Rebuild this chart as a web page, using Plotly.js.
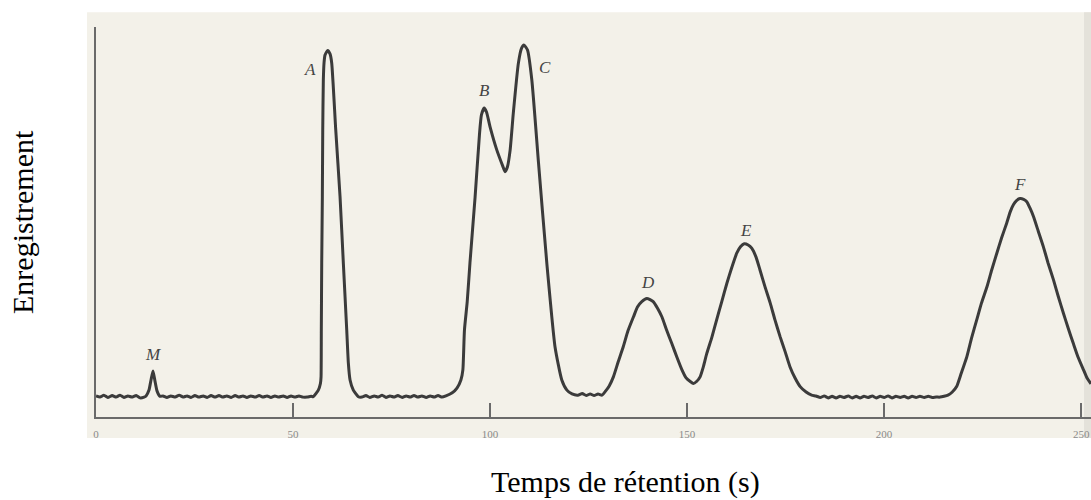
<!DOCTYPE html>
<html>
<head>
<meta charset="utf-8">
<script src="https://cdn.plot.ly/plotly-3.0.1.min.js"></script>
<style>html,body{margin:0;padding:0;background:#fff;}#chart{width:1091px;height:500px;}</style>
</head>
<body>
<div id="chart"></div>
<script>
// Retention time (s) and detector signal (arbitrary units)
var time1 = [0,1.0,2.0,3.0,4.1,5.1,6.1,7.1,8.1,9.1,10.2,11.2,12.2,12.7,13.45,13.96,14.47,14.97,15.48,16.24,
  17.0,18.0,19.0,20.1,21.1,22.1,23.1,24.1,25.1,26.1,27.2,28.2,29.2,30.2,31.2,32.2,33.2,34.3,35.3,36.3,
  37.3,38.3,39.3,40.4,41.4,42.4,43.4,44.4,45.4,46.4,47.5,48.5,49.5,50.5,51.5,52.5,53.6,54.6];
var signal1 = [5.4,5.1,5.6,5.0,5.5,5.1,5.6,5.0,5.4,5.1,5.5,4.9,5.1,5.4,6.9,9.5,11.8,9.2,6.7,5.3,
  5.4,5.0,5.4,5.1,5.6,5.1,5.4,5.0,5.5,5.1,5.4,5.0,5.5,5.1,5.5,5.1,5.4,5.0,5.5,5.1,
  5.4,5.0,5.4,5.1,5.5,5.1,5.4,5.0,5.4,5.1,5.4,5.0,5.4,5.1,5.4,5.1,5.1,5.3];

var timeA = [55.15,56.42,56.95,57.11,57.18,57.28,57.44,57.54,57.69,57.87,58.12,58.78,59.39,59.82,60.84,61.93,62.77,63.63,64.04,64.47,65.30,66.57];
var signalA = [5.2,6.9,8.6,10.3,22.3,39.5,56.5,73.6,86.4,90.8,92.8,94.0,93.1,90.7,73.6,56.5,39.4,22.3,13.8,9.5,6.9,5.2];

var time2 = [67.5,68.5,69.5,70.6,71.6,72.6,73.6,74.6,75.6,76.6,77.7,78.7,79.7,80.7,81.7,82.7,83.8,84.8,85.8,86.8,87.8,88.8];
var signal2 = [5.1,5.5,5.0,5.4,5.1,5.6,5.0,5.4,5.1,5.5,5.0,5.4,5.1,5.5,5.1,5.4,5.0,5.4,5.1,5.5,5.1,5.4];

var timeBC = [90.4,91.6,92.6,93.1,93.5,94.2,94.9,96.2,97.3,97.8,98.5,99.1,100.0,101.7,103.2,103.8,104.4,105.1,105.9,107.2,108.0,108.6,109.5,110.6,112.3,114.4,116.5,118.2,119.5,120.8,122.3];
var signalBC = [6.2,7.4,9.5,12.1,22.3,29.5,39.5,56.4,72.3,77.4,79.2,78.2,74.4,68.5,64.4,62.9,64.1,68.5,77.9,90.8,94.6,95.4,94.1,86.4,65.1,39.5,17.9,9.5,6.9,5.9,5.6];

var time3 = [123.4,124.4,125.4,126.4,127.4,128.4];
var signal3 = [6.0,5.5,5.9,5.5,5.9,5.6];

var timeDE = [129.2,130.2,131.3,132.5,133.8,135.0,136.4,137.4,138.5,139.8,140.6,141.4,142.5,143.6,144.8,146.1,147.4,148.7,149.7,150.8,151.6,152.4,153.3,154.1,155.0,156.3,157.5,158.8,160.1,161.3,162.6,163.6,164.5,165.5,166.4,167.5,168.5,169.8,171.1,172.3,173.6,174.9,176.1,177.4,178.7,180.2,181.6];
var signalDE = [6.5,7.9,10.3,14.1,18.0,22.1,25.7,28.2,29.6,30.4,30.1,29.6,27.9,25.7,22.3,18.9,15.4,12.1,10.1,9.1,8.6,9.1,10.3,12.8,16.3,20.5,24.9,29.6,34.3,38.2,42.0,43.7,44.4,44.1,43.3,41.0,37.7,33.3,29.2,24.9,20.6,16.7,12.9,10.0,7.8,6.4,5.6];

var time4 = [182.7,183.8,184.8,185.8,186.8,187.8,188.8,189.8,190.9,191.9,192.9,193.9,194.9,195.9,197.0,198.0,199.0,200.0,201.0,202.0,203.0,204.1,205.1,206.1,207.1,208.1,209.1,210.2,211.2,212.2,213.2,214.2,215.2];
var signal4 = [5.4,5.0,5.4,4.9,5.3,4.9,5.3,5.0,5.4,4.9,5.3,4.9,5.3,5.0,5.4,4.9,5.3,5.0,5.4,4.9,5.3,5.0,5.3,4.9,5.3,5.0,5.3,5.0,5.3,5.0,5.1,5.1,5.3];

var timeF = [216.2,217.3,218.4,219.5,221.0,222.2,223.5,224.7,226.1,227.3,228.6,229.8,231.1,232.0,232.8,233.6,234.5,235.4,236.2,237.0,237.9,239.1,240.4,241.6,243.0,244.2,245.5,246.7,248.0,249.2,250.6,251.5,252.5];
var signalF = [5.6,6.4,7.8,11.0,15.5,20.3,24.9,29.2,33.4,37.7,42.0,45.9,49.7,52.6,54.4,55.5,56.0,55.8,55.2,53.6,51.4,47.7,43.7,39.5,35.1,30.9,26.6,22.8,18.9,15.4,12.1,10.0,8.5];

// Peak labels
var peakNames = ['M','A','B','C','D','E','F'];
var labelTime = [14.5,54.3,98.5,114.0,140.1,165.0,234.5];
var labelSignal = [15.9,89.0,83.8,89.5,34.4,47.9,59.5];

// Axis ticks
var tickValues = [0,50,100,150,200,250];
var tickLabels = ['0','50','100','150','200','250'];

var xTitle = 'Temps de rétention (s)';
var yTitle = 'Enregistrement';

var retentionTime = [].concat(time1,timeA,time2,timeBC,time3,timeDE,time4,timeF);
var signal = [].concat(signal1,signalA,signal2,signalBC,signal3,signalDE,signal4,signalF);

var SERIF = 'Liberation Serif, Times New Roman, serif';

var trace = {
  type: 'scatter', mode: 'lines',
  x: retentionTime, y: signal,
  line: {color: '#3b3b3b', width: 3, shape: 'spline', smoothing: 0.5},
  hoverinfo: 'skip', showlegend: false
};

var annotations = peakNames.map(function(n, i){
  return {x: labelTime[i], y: labelSignal[i], xref: 'x', yref: 'y',
    text: '<i>' + n + '</i>', showarrow: false,
    font: {family: SERIF, size: 17, color: '#444'}, xanchor: 'center', yanchor: 'middle'};
});
annotations.push({x: 0.395, y: -0.167, xref: 'paper', yref: 'paper', text: xTitle, showarrow: false,
  font: {family: SERIF, size: 30, color: '#000'}, xanchor: 'left', yanchor: 'middle'});
annotations.push({x: -0.0744, y: 0.5, xref: 'paper', yref: 'paper', text: yTitle, showarrow: false,
  textangle: -90, font: {family: SERIF, size: 30, color: '#000'}, xanchor: 'center', yanchor: 'middle'});

var layout = {
  width: 1091, height: 500,
  margin: {l: 96, r: 0, t: 27, b: 83, pad: 0},
  paper_bgcolor: '#ffffff', plot_bgcolor: 'rgba(0,0,0,0)',
  font: {family: SERIF},
  showlegend: false,
  xaxis: {
    range: [0, 252.5], showgrid: false, zeroline: false,
    showline: true, linecolor: '#6a6a6a', linewidth: 2,
    ticks: 'inside', ticklen: 14, tickwidth: 1.5, tickcolor: '#6a6a6a',
    tickvals: tickValues, ticktext: tickLabels,
    tickfont: {family: SERIF, size: 11, color: '#8a8a8a'}, ticklabelstandoff: 6
  },
  yaxis: {
    range: [0, 100], showgrid: false, zeroline: false,
    showline: true, linecolor: '#6a6a6a', linewidth: 2,
    ticks: '', showticklabels: false
  },
  shapes: [
    {type: 'rect', xref: 'paper', yref: 'paper', x0: -0.009, x1: 1.0, y0: -0.054, y1: 1.038,
      fillcolor: '#f3f1e9', line: {width: 0}, layer: 'below'},
    {type: 'rect', xref: 'paper', yref: 'paper', x0: 0.993, x1: 1.0, y0: -0.054, y1: 1.038,
      fillcolor: '#e4e2da', line: {width: 0}, layer: 'below'}
  ],
  annotations: annotations
};

Plotly.newPlot('chart', [trace], layout, {displayModeBar: false, staticPlot: true});
</script>
</body>
</html>
